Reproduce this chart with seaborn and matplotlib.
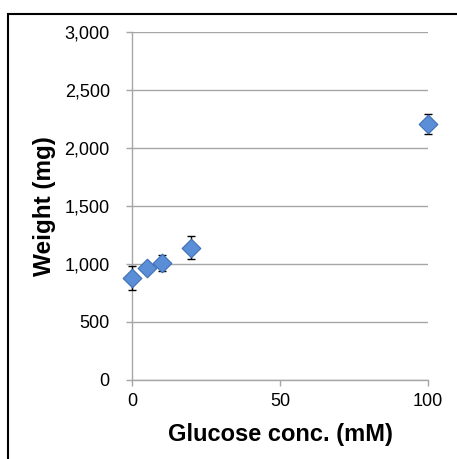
import matplotlib
matplotlib.use("Agg")
import matplotlib.pyplot as plt
import seaborn as sns
import pandas as pd
from matplotlib.patches import Rectangle
from matplotlib.ticker import FuncFormatter

# Glucose concentration series with mean weight and error
glucose_mM = [0, 5, 10, 20, 100]
weight_mg = [880, 962, 1010, 1142, 2207]
weight_err = [105, 30, 67, 99, 86]

y_ticks = [0, 500, 1000, 1500, 2000, 2500, 3000]
x_ticks = [0, 50, 100]

sns.set_theme(style="white")
plt.rcParams["font.family"] = ["Liberation Sans", "DejaVu Sans"]

df = pd.DataFrame({"glucose": glucose_mM, "weight": weight_mg, "err": weight_err})

fig = plt.figure(figsize=(4.57, 4.59), dpi=100)
ax = fig.add_axes([132 / 457, 1 - 380 / 459, 296 / 457, 348 / 459])

grey = "#a6a6a6"
ax.set_xlim(0, 100)
ax.set_ylim(0, 3000)
ax.set_yticks(y_ticks)
ax.set_xticks(x_ticks)
ax.yaxis.set_major_formatter(FuncFormatter(lambda v, p: f"{int(v):,}"))
ax.grid(axis="y", color=grey, linewidth=1.0)
ax.grid(axis="x", visible=False)
ax.set_axisbelow(True)

for side in ["top", "right"]:
    ax.spines[side].set_visible(False)
for side in ["left", "bottom"]:
    ax.spines[side].set_color(grey)
    ax.spines[side].set_linewidth(1.0)

ax.tick_params(axis="both", which="major", direction="out", length=4, width=1,
               color=grey, labelsize=13, labelcolor="black", left=True, bottom=True)
ax.tick_params(axis="y", pad=12)
ax.tick_params(axis="x", pad=5)

ax.errorbar(df["glucose"], df["weight"], yerr=df["err"], fmt="none",
            ecolor="black", elinewidth=1.0, capsize=3, capthick=1.0,
            clip_on=False, zorder=3)
sns.scatterplot(data=df, x="glucose", y="weight", marker="D", s=90,
                color="#5a8fd8", edgecolor="#3d6db5", linewidth=0.8,
                ax=ax, clip_on=False, zorder=4, legend=False)

ax.set_xlabel("Glucose conc. (mM)", fontsize=17, fontweight="bold",
              color="black", labelpad=10)
ax.set_ylabel("Weight (mg)", fontsize=17.5, fontweight="bold",
              color="black", labelpad=6)

# Outer frame of the chart area
fig.patches.append(Rectangle((8 / 457, -0.5), 2.0, 1.5 - 14 / 459,
                             transform=fig.transFigure, fill=False,
                             edgecolor="black", linewidth=1.5, zorder=0))

fig.savefig("out.png", dpi=100)
